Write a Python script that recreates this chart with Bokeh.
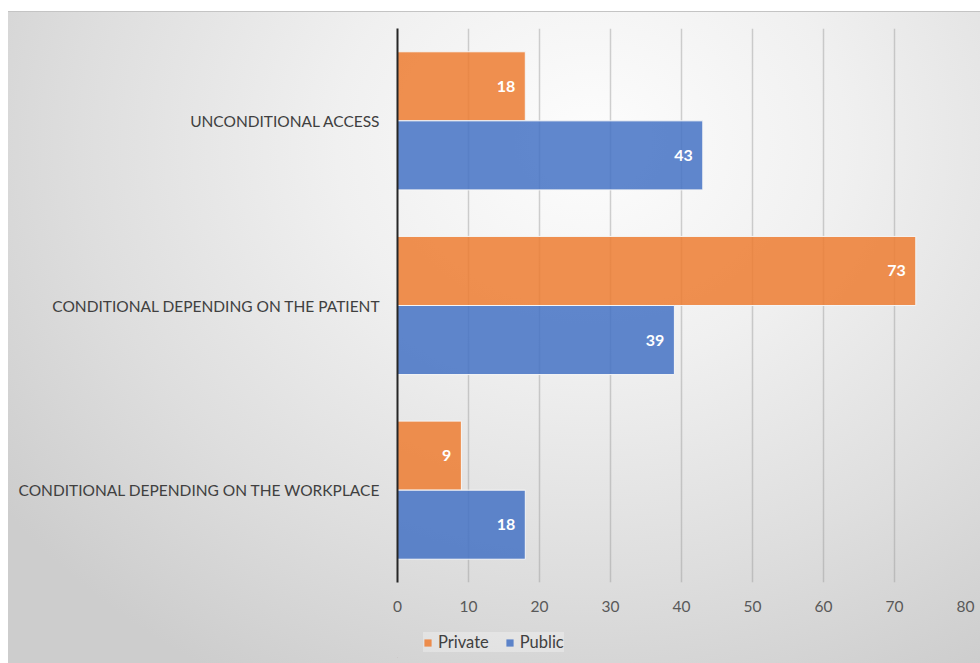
from bokeh.plotting import figure
from bokeh.layouts import column
from bokeh.models import FactorRange, Legend, LegendItem, FixedTicker, ColumnDataSource, Range1d
from bokeh.transform import dodge
from bokeh.core.properties import value
from bokeh.embed import file_html
from bokeh.resources import INLINE

# Survey data: access type by sector
categories = [
    "UNCONDITIONAL ACCESS",
    "CONDITIONAL DEPENDING ON THE PATIENT",
    "CONDITIONAL DEPENDING ON THE WORKPLACE",
]
series = ["Private", "Public"]
private = [18, 73, 9]
public = [43, 39, 18]
x_ticks = [0, 10, 20, 30, 40, 50, 60, 70, 80]

ORANGE = "#ED7D31"
BLUE = "#4472C4"
FONT = "Lato"
BAR_ALPHA = 0.85
BAR_LINE = "#f6f6f6"
LEFT = 389
RIGHT = 15

source = ColumnDataSource(dict(
    cat=categories,
    private=private,
    public=public,
    private_lbl=[str(v) for v in private],
    public_lbl=[str(v) for v in public],
))

p = figure(
    width=972, height=606,
    y_range=FactorRange(factors=list(reversed(categories))),
    x_range=(0, 80),
    output_backend="svg",
    toolbar_location=None,
    min_border_left=LEFT, min_border_right=RIGHT,
    min_border_top=16, min_border_bottom=36,
)
p.background_fill_color = None
p.border_fill_color = None
p.outline_line_color = None

bar_h = 0.374
p.hbar(
    y=dodge("cat", 0.187, range=p.y_range), right="private", left=0, height=bar_h,
    source=source, fill_color=ORANGE, fill_alpha=BAR_ALPHA, line_color=BAR_LINE, line_width=1,
)
p.hbar(
    y=dodge("cat", -0.187, range=p.y_range), right="public", left=0, height=bar_h,
    source=source, fill_color=BLUE, fill_alpha=BAR_ALPHA, line_color=BAR_LINE, line_width=1,
)

# value labels inside the bar ends
for col, off in (("private", 0.187), ("public", -0.187)):
    p.text(
        x=col, y=dodge("cat", off, range=p.y_range), text=col + "_lbl", source=source,
        x_offset=-10, text_align="right", text_baseline="middle",
        text_color="white", text_font=value(FONT), text_font_style="bold", text_font_size="16px",
    )

# value axis
p.xaxis.ticker = FixedTicker(ticks=x_ticks)
p.xaxis.axis_line_color = None
p.xaxis.major_tick_line_color = None
p.xaxis.major_tick_out = 0
p.xaxis.minor_tick_line_color = None
p.xaxis.major_label_text_font = FONT
p.xaxis.major_label_text_font_size = "15.5px"
p.xaxis.major_label_text_color = "#595959"
p.xaxis.major_label_standoff = 18

# category axis
p.yaxis.axis_line_color = "#262626"
p.yaxis.axis_line_width = 2
p.yaxis.major_tick_line_color = None
p.yaxis.major_tick_out = 0
p.yaxis.minor_tick_line_color = None
p.yaxis.major_label_text_font = FONT
p.yaxis.major_label_text_font_size = "15.5px"
p.yaxis.major_label_text_color = "#404040"
p.yaxis.major_label_standoff = 17

p.xgrid.grid_line_color = "#9a9a9a"
p.xgrid.grid_line_alpha = 0.45
p.xgrid.grid_line_width = 1.5
p.ygrid.grid_line_color = None

# legend strip underneath the chart; swatch glyphs sit outside the visible range
leg = figure(
    width=972, height=45,
    x_range=Range1d(0, 1), y_range=Range1d(0, 1),
    output_backend="svg", toolbar_location=None,
    x_axis_location=None, y_axis_location=None,
    min_border_left=LEFT, min_border_right=RIGHT, min_border_top=0, min_border_bottom=6,
)
leg.background_fill_color = None
leg.border_fill_color = None
leg.outline_line_color = None
leg.xgrid.grid_line_color = None
leg.ygrid.grid_line_color = None
swatch_priv = leg.hbar(y=[-5], left=[-5], right=[-4], height=0.5,
                       fill_color=ORANGE, fill_alpha=BAR_ALPHA, line_color=None)
swatch_pub = leg.hbar(y=[-5], left=[-5], right=[-4], height=0.5,
                      fill_color=BLUE, fill_alpha=BAR_ALPHA, line_color=None)

legend = Legend(
    items=[LegendItem(label=series[0], renderers=[swatch_priv]),
           LegendItem(label=series[1], renderers=[swatch_pub])],
    orientation="horizontal",
    location=(26, 5),
    background_fill_color="white", background_fill_alpha=0.3,
    border_line_color=None,
    label_text_font=FONT, label_text_font_size="16.5px", label_text_color="#404040",
    glyph_width=9, glyph_height=9,
    label_standoff=6, spacing=16, padding=8, margin=0,
)
leg.add_layout(legend, "center")

page = column(p, leg, spacing=0)
page.styles = {
    "margin-left": "8px",
    "margin-top": "11px",
    "border-top": "1px solid #c4c4c4",
    "background": "radial-gradient(ellipse 75% 95% at 60% 20%, #fdfdfd 0%, #f0f0f0 35%, #dedede 70%, #cdcdcd 100%)",
}

open("out.html", "w").write(file_html(page, INLINE))
